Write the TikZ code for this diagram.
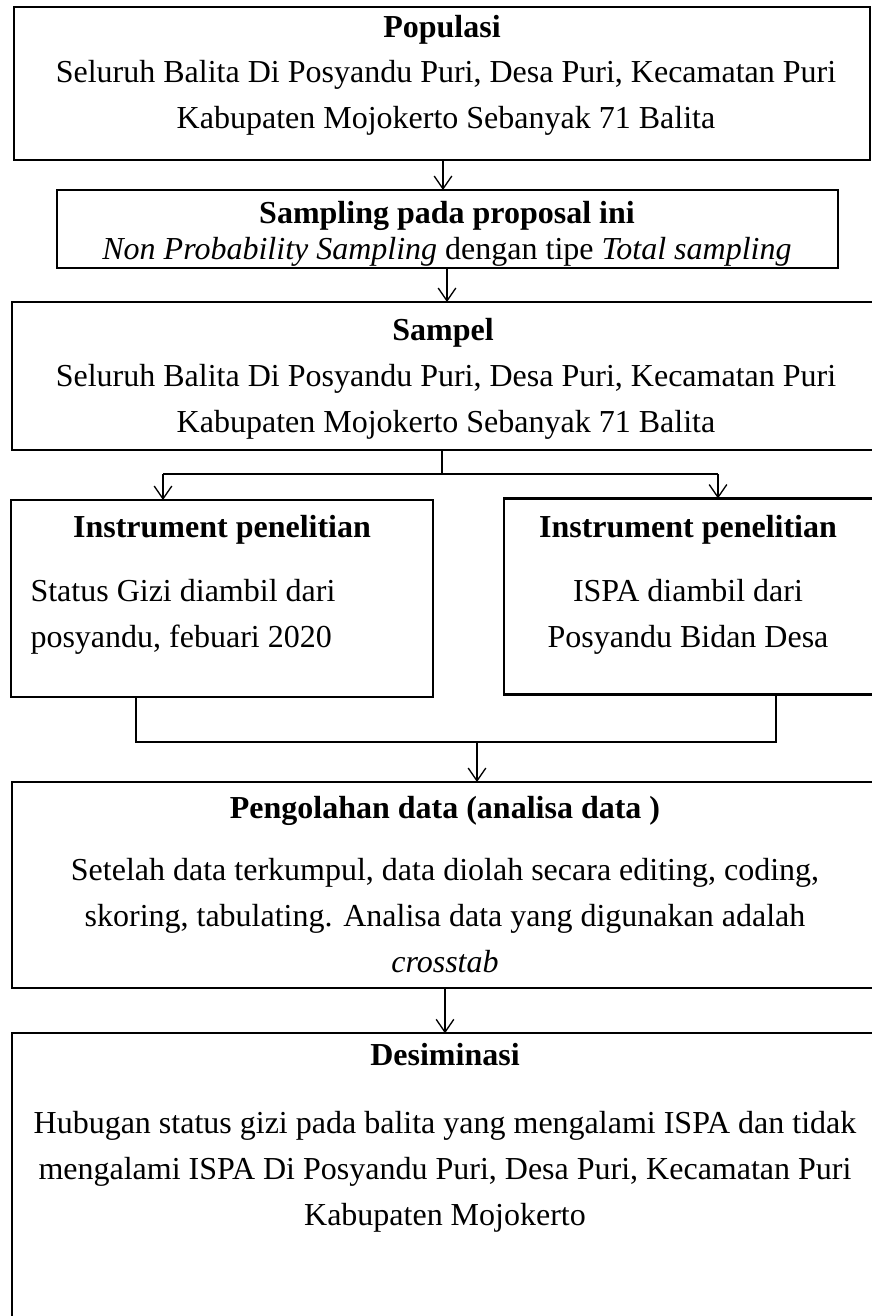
\documentclass[tikz,border=0pt]{standalone}
\usepackage{fontspec}
\setmainfont{Liberation Serif}
\usetikzlibrary{arrows.meta}
\begin{document}
\begin{tikzpicture}[x=0.375pt,y=-0.375pt,
  box/.style={draw, line width=0.8pt, inner sep=0pt, outer sep=0pt},
  ttl/.style={font=\fontsize{12}{17.25}\selectfont\bfseries, anchor=base, inner sep=0pt},
  txt/.style={font=\fontsize{12}{17.25}\selectfont, anchor=base, inner sep=0pt, align=center},
  con/.style={line width=0.5pt},
  arr/.style={con, -{Straight Barb[length=4.8pt,width=6.6pt,line width=0.5pt]}}]
\useasboundingbox (0,0) rectangle (872,1316);
% boxes
\node[box, minimum width=321pt, minimum height=57.375pt] (P) at (442,83.5) {};
\node[box, minimum width=292.875pt, minimum height=29.25pt] (S) at (447.5,229) {};
\node[box, minimum width=323.25pt, minimum height=55.5pt] (Sa) at (443,376) {};
\node[box, minimum width=158.25pt, minimum height=73.875pt] (I1) at (222,598.5) {};
\node[box, minimum width=138.75pt, minimum height=73.5pt] (I2) at (689,596.5) {};
\node[box, minimum width=323.25pt, minimum height=77.25pt] (Pg) at (443,885) {};
\node[box, minimum width=323.25pt, minimum height=110pt] (D) at (443,1180) {};
% texts
\node[ttl] (Pt) at (442,37) {Populasi};
\node[txt] (Pb) at (446,128) {Seluruh Balita Di Posyandu Puri, Desa Puri, Kecamatan Puri\\Kabupaten Mojokerto Sebanyak 71 Balita};
\node[ttl] (St) at (447,223) {Sampling pada proposal ini};
\node[txt] (Sb) at (447,259) {\itshape Non Probability Sampling\upshape{} dengan tipe \itshape Total sampling};
\node[ttl] (Sat) at (443,340) {Sampel};
\node[txt] (Sab) at (446,432) {Seluruh Balita Di Posyandu Puri, Desa Puri, Kecamatan Puri\\Kabupaten Mojokerto Sebanyak 71 Balita};
\node[ttl] (I1t) at (222,537) {Instrument penelitian};
\node[txt, align=left, anchor=base west] (I1b) at (30,647) {Status Gizi diambil dari\\posyandu, febuari 2020};
\node[ttl] (I2t) at (688,537) {Instrument penelitian};
\node[txt] (I2b) at (688,647) {ISPA diambil dari\\Posyandu Bidan Desa};
\node[ttl] (Pgt) at (445,818) {Pengolahan data (analisa data )};
\node[txt] (Pgb) at (445,972) {Setelah data terkumpul, data diolah secara editing, coding,\\skoring, tabulating. Analisa data yang digunakan adalah\\\itshape crosstab};
\node[ttl] (Dt) at (445,1065) {Desiminasi};
\node[txt] (Db) at (445,1225) {Hubugan status gizi pada balita yang mengalami ISPA dan tidak\\mengalami ISPA Di Posyandu Puri, Desa Puri, Kecamatan Puri\\Kabupaten Mojokerto};
% connectors
\coordinate (a1) at (443,160);
\draw[arr] (a1) -- (a1 |- S.north);
\coordinate (a2) at (447,268);
\draw[arr] (a2) -- (a2 |- Sa.north);
\coordinate (sp) at (442,474);
\coordinate (spl) at (163,474);
\coordinate (spr) at (718,474);
\draw[con] (sp |- Sa.south) -- (sp);
\draw[con] (spl) -- (spr);
\draw[arr] (spl) -- (spl |- I1.north);
\draw[arr] (spr) -- (spr |- I2.north);
\coordinate (jl) at (136,742);
\coordinate (jr) at (776,742);
\coordinate (jm) at (477,742);
\draw[con] (jl |- I1.south) -- (jl) -- (jr) -- (jr |- I2.south);
\draw[arr] (jm) -- (jm |- Pg.north);
\coordinate (a5) at (445,988);
\draw[arr] (a5) -- (a5 |- D.north);
\end{tikzpicture}
\end{document}
